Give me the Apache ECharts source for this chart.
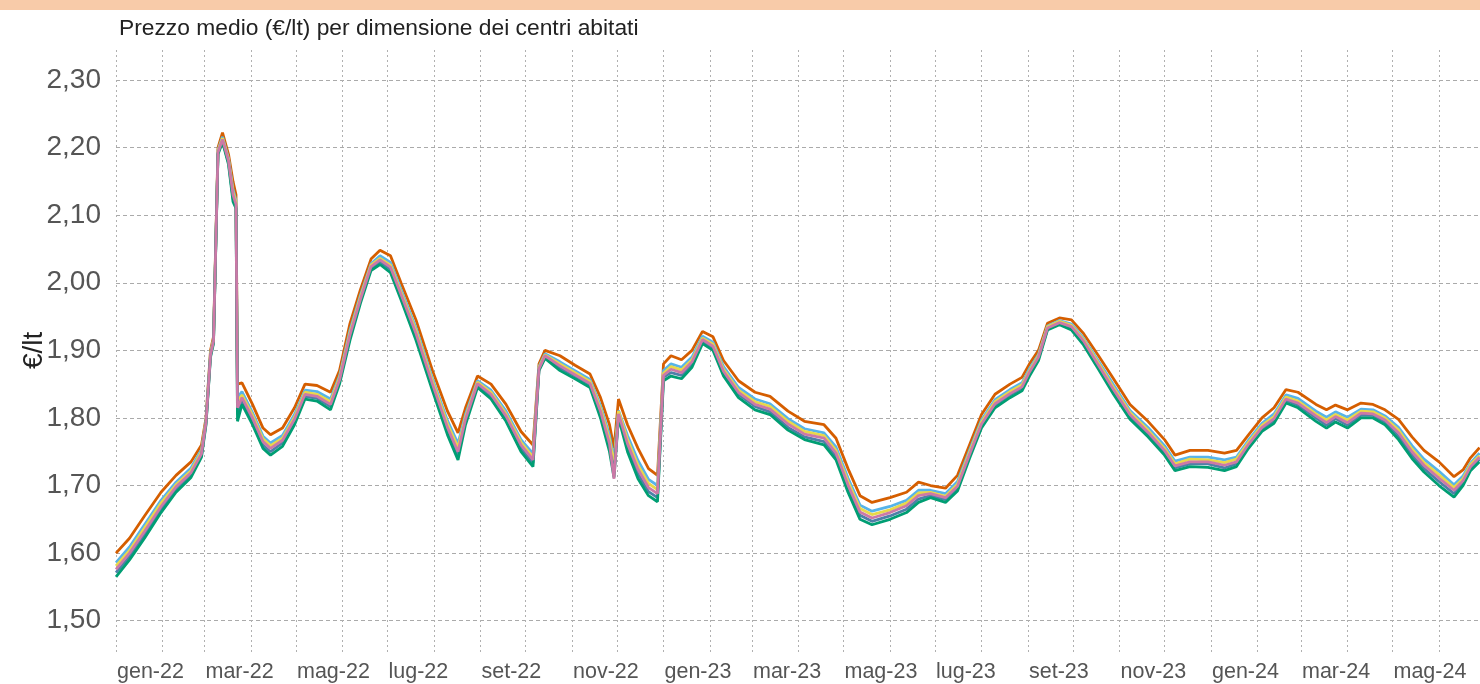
<!DOCTYPE html>
<html><head><meta charset="utf-8">
<script src="https://cdn.jsdelivr.net/npm/echarts@6/dist/echarts.min.js"></script>
<style>html,body{margin:0;padding:0;background:#fff}#c{width:1480px;height:684px}</style>
</head><body><div id="c"></div>
<script>
const titleText = 'Prezzo medio (€/lt) per dimensione dei centri abitati';
const yName = '€/lt';
const monthNames = ['gen','feb','mar','apr','mag','giu','lug','ago','set','ott','nov','dic'];
const yTicks = [1.5, 2.3, 0.1]; // min, max, step

const dates = ['2022-01-01','2022-01-10','2022-01-20','2022-01-31','2022-02-10','2022-02-20','2022-02-27','2022-03-02','2022-03-05','2022-03-07','2022-03-10','2022-03-13','2022-03-17','2022-03-20','2022-03-22','2022-03-23','2022-03-26','2022-04-02','2022-04-09','2022-04-14','2022-04-22','2022-04-30','2022-05-07','2022-05-15','2022-05-24','2022-05-30','2022-06-06','2022-06-13','2022-06-20','2022-06-26','2022-07-03','2022-07-10','2022-07-20','2022-07-31','2022-08-10','2022-08-17','2022-08-22','2022-08-30','2022-09-08','2022-09-18','2022-09-28','2022-10-06','2022-10-10','2022-10-14','2022-10-24','2022-11-03','2022-11-13','2022-11-20','2022-11-26','2022-11-29','2022-12-02','2022-12-08','2022-12-15','2022-12-22','2022-12-28','2023-01-01','2023-01-06','2023-01-13','2023-01-20','2023-01-27','2023-02-03','2023-02-10','2023-02-20','2023-03-03','2023-03-13','2023-03-25','2023-04-05','2023-04-18','2023-04-26','2023-05-04','2023-05-12','2023-05-20','2023-06-01','2023-06-12','2023-06-20','2023-06-28','2023-07-08','2023-07-16','2023-07-24','2023-08-01','2023-08-10','2023-08-20','2023-08-28','2023-09-02','2023-09-08','2023-09-14','2023-09-22','2023-09-30','2023-10-08','2023-10-18','2023-10-28','2023-11-08','2023-11-20','2023-12-01','2023-12-08','2023-12-18','2023-12-30','2024-01-10','2024-01-18','2024-01-26','2024-02-04','2024-02-12','2024-02-20','2024-02-28','2024-03-11','2024-03-18','2024-03-24','2024-04-01','2024-04-10','2024-04-18','2024-04-26','2024-05-05','2024-05-14','2024-05-22','2024-06-01','2024-06-11','2024-06-17','2024-06-22','2024-06-28'];

const sOrange = [1.600,1.622,1.655,1.690,1.715,1.735,1.760,1.800,1.900,1.920,2.200,2.222,2.190,2.150,2.130,1.850,1.852,1.820,1.785,1.775,1.785,1.815,1.850,1.848,1.838,1.870,1.940,1.990,2.035,2.048,2.040,2.000,1.945,1.870,1.810,1.778,1.815,1.862,1.850,1.820,1.780,1.760,1.880,1.900,1.892,1.878,1.865,1.830,1.790,1.755,1.828,1.790,1.755,1.725,1.715,1.880,1.892,1.886,1.900,1.928,1.920,1.885,1.855,1.838,1.832,1.810,1.795,1.790,1.770,1.725,1.685,1.675,1.682,1.690,1.705,1.700,1.696,1.715,1.760,1.805,1.835,1.850,1.860,1.880,1.900,1.940,1.948,1.945,1.925,1.892,1.858,1.820,1.795,1.768,1.745,1.752,1.752,1.748,1.752,1.775,1.800,1.815,1.842,1.838,1.820,1.812,1.819,1.812,1.822,1.820,1.812,1.798,1.772,1.752,1.735,1.713,1.723,1.741,1.756];
const sLightBlue = [1.586,1.609,1.642,1.678,1.705,1.726,1.753,1.796,1.896,1.916,2.196,2.216,2.184,2.138,2.122,1.830,1.839,1.808,1.773,1.763,1.774,1.805,1.841,1.839,1.828,1.862,1.930,1.982,2.028,2.040,2.030,1.990,1.933,1.858,1.796,1.762,1.805,1.855,1.841,1.810,1.768,1.747,1.876,1.895,1.883,1.870,1.857,1.818,1.774,1.738,1.811,1.774,1.737,1.709,1.700,1.870,1.880,1.875,1.890,1.921,1.912,1.876,1.845,1.828,1.821,1.799,1.784,1.778,1.757,1.711,1.671,1.662,1.669,1.678,1.693,1.693,1.688,1.706,1.752,1.797,1.827,1.842,1.852,1.873,1.894,1.936,1.944,1.939,1.918,1.884,1.849,1.811,1.786,1.759,1.736,1.742,1.742,1.738,1.742,1.767,1.792,1.806,1.834,1.829,1.810,1.801,1.809,1.801,1.813,1.812,1.803,1.786,1.759,1.739,1.721,1.701,1.714,1.733,1.748];
const sYellow = [1.581,1.604,1.637,1.674,1.701,1.722,1.750,1.795,1.895,1.915,2.195,2.214,2.182,2.134,2.119,1.825,1.834,1.804,1.769,1.759,1.770,1.801,1.838,1.835,1.824,1.859,1.926,1.979,2.026,2.036,2.026,1.986,1.929,1.854,1.791,1.756,1.801,1.853,1.838,1.806,1.764,1.742,1.875,1.893,1.880,1.867,1.854,1.814,1.768,1.731,1.810,1.768,1.730,1.703,1.694,1.866,1.876,1.871,1.886,1.918,1.909,1.872,1.841,1.824,1.817,1.795,1.780,1.774,1.752,1.706,1.666,1.657,1.664,1.674,1.689,1.690,1.684,1.702,1.749,1.794,1.824,1.839,1.849,1.870,1.892,1.935,1.943,1.937,1.916,1.881,1.845,1.808,1.782,1.755,1.732,1.739,1.738,1.734,1.739,1.764,1.789,1.802,1.831,1.825,1.806,1.797,1.805,1.797,1.810,1.809,1.800,1.782,1.754,1.734,1.716,1.697,1.710,1.731,1.744];
const sPink = [1.576,1.600,1.632,1.669,1.698,1.719,1.747,1.793,1.893,1.913,2.193,2.212,2.180,2.130,2.116,1.815,1.830,1.800,1.765,1.755,1.767,1.798,1.835,1.832,1.820,1.856,1.923,1.976,2.024,2.034,2.023,1.983,1.925,1.850,1.786,1.750,1.798,1.851,1.835,1.803,1.760,1.738,1.873,1.892,1.877,1.864,1.851,1.810,1.762,1.710,1.806,1.762,1.724,1.697,1.688,1.863,1.872,1.867,1.883,1.916,1.906,1.869,1.838,1.820,1.813,1.791,1.776,1.770,1.748,1.701,1.661,1.652,1.660,1.670,1.685,1.688,1.682,1.699,1.746,1.791,1.821,1.836,1.846,1.868,1.890,1.933,1.941,1.935,1.914,1.878,1.842,1.805,1.779,1.752,1.729,1.735,1.735,1.730,1.735,1.761,1.786,1.799,1.828,1.822,1.803,1.793,1.802,1.793,1.807,1.806,1.797,1.778,1.750,1.730,1.711,1.693,1.707,1.728,1.742];
const sBlue = [1.571,1.595,1.627,1.665,1.694,1.716,1.745,1.792,1.892,1.912,2.192,2.210,2.178,2.125,2.113,1.805,1.825,1.795,1.760,1.750,1.763,1.795,1.832,1.829,1.817,1.854,1.920,1.974,2.021,2.031,2.020,1.980,1.920,1.845,1.781,1.744,1.795,1.848,1.832,1.800,1.755,1.733,1.872,1.890,1.874,1.862,1.849,1.805,1.756,1.718,1.803,1.756,1.717,1.691,1.682,1.860,1.867,1.863,1.880,1.913,1.904,1.866,1.835,1.817,1.809,1.786,1.772,1.765,1.743,1.696,1.656,1.647,1.655,1.665,1.680,1.685,1.679,1.696,1.744,1.789,1.819,1.834,1.844,1.865,1.888,1.932,1.940,1.933,1.911,1.876,1.839,1.802,1.776,1.749,1.726,1.732,1.732,1.726,1.732,1.759,1.784,1.796,1.826,1.819,1.800,1.789,1.799,1.789,1.804,1.804,1.794,1.773,1.745,1.725,1.706,1.688,1.704,1.725,1.739];
const sGreen = [1.565,1.590,1.622,1.660,1.690,1.712,1.742,1.790,1.890,1.910,2.190,2.208,2.175,2.120,2.110,1.795,1.820,1.790,1.755,1.745,1.758,1.790,1.828,1.825,1.812,1.850,1.915,1.970,2.018,2.027,2.015,1.975,1.915,1.840,1.775,1.738,1.790,1.845,1.828,1.795,1.750,1.728,1.870,1.888,1.870,1.858,1.845,1.800,1.750,1.712,1.800,1.750,1.710,1.685,1.676,1.855,1.862,1.858,1.875,1.910,1.900,1.862,1.830,1.812,1.805,1.782,1.768,1.760,1.738,1.690,1.650,1.642,1.650,1.660,1.675,1.682,1.675,1.692,1.740,1.785,1.815,1.830,1.840,1.862,1.885,1.930,1.938,1.930,1.908,1.872,1.835,1.798,1.772,1.745,1.722,1.728,1.727,1.722,1.728,1.755,1.780,1.792,1.822,1.815,1.795,1.785,1.794,1.785,1.800,1.800,1.790,1.768,1.740,1.720,1.700,1.683,1.700,1.722,1.735];

const seriesDefs = [
  {name:'orange', color:'#D55E00', data:sOrange},
  {name:'lightblue', color:'#56B4E9', data:sLightBlue},
  {name:'yellow', color:'#E8D84A', data:sYellow},
  {name:'blue', color:'#4F7FA8', data:sBlue},
  {name:'green', color:'#009E73', data:sGreen},
  {name:'pink', color:'#CC79A7', data:sPink}
];

// daily category axis from 2022-01-01 to 2024-07-01
const days = [];
(function(){
  const d = new Date(Date.UTC(2022,0,1));
  const end = Date.UTC(2024,6,1);
  while (d.getTime() <= end) {
    days.push(d.toISOString().slice(0,10));
    d.setUTCDate(d.getUTCDate()+1);
  }
})();
const isMonthStart = (i, v) => v.slice(8,10) === '01';
const isLabelMonth = (i, v) => i < days.length - 1 && v.slice(8,10) === '01' && (parseInt(v.slice(5,7),10) % 2 === 1);
const fmtLabel = v => monthNames[parseInt(v.slice(5,7),10)-1] + '-' + v.slice(2,4);

const chart = echarts.init(document.getElementById('c'), null, {renderer:'canvas'});
const FONT = '"Liberation Sans", Arial, sans-serif';
chart.setOption({
  animation: false,
  backgroundColor: '#fff',
  title: {text: titleText, left: 114, top: 12, textStyle: {fontFamily: FONT, fontSize: 22.8, fontWeight: 'normal', color: '#222'}},
  graphic: [{type:'rect', left:0, top:0, shape:{width:1480, height:10}, style:{fill:'#F8CBA9'}, silent:true}],
  grid: [
    {left:116, right:-4, top:50, bottom:32, outerBoundsMode:'none', containLabel:false},
    {left:116, right:-4, top:80, bottom:63.3, outerBoundsMode:'none', containLabel:false}
  ],
  xAxis: [
    {type:'category', gridIndex:0, data:days, boundaryGap:false,
     axisLine:{show:false}, axisTick:{show:false},
     splitLine:{show:true, interval:isMonthStart, lineStyle:{color:'#b0b0b0', type:[2,3], width:1}},
     axisLabel:{interval:isLabelMonth, formatter:fmtLabel, align:'left', margin:9, padding:[0,0,0,1],
       fontFamily:FONT, fontSize:21.5, color:'#555', hideOverlap:false}},
    {type:'category', gridIndex:1, data:days, boundaryGap:false, show:false}
  ],
  yAxis: [
    {type:'value', gridIndex:0, show:false, min:0, max:1, splitLine:{show:false}},
    {type:'value', gridIndex:1, min:yTicks[0], max:yTicks[1], interval:yTicks[2],
     axisLine:{show:false}, axisTick:{show:false},
     splitLine:{show:true, lineStyle:{color:'#aaa', type:[4,3], width:1}},
     axisLabel:{formatter:v => v.toFixed(2).replace('.', ','), margin:15, fontFamily:FONT, fontSize:28, color:'#555'},
     name:yName, nameLocation:'middle', nameGap:68, nameRotate:90, nameMoveOverlap:false,
     nameTextStyle:{fontFamily:FONT, fontSize:28, color:'#222'}}
  ],
  series: seriesDefs.map(s => ({
    type:'line', name:s.name, xAxisIndex:1, yAxisIndex:1, showSymbol:false, symbol:'none',
    lineStyle:{color:s.color, width:2.8}, itemStyle:{color:s.color},
    data: dates.map((d, i) => [d, s.data[i]])
  }))
});
</script>
</body></html>
